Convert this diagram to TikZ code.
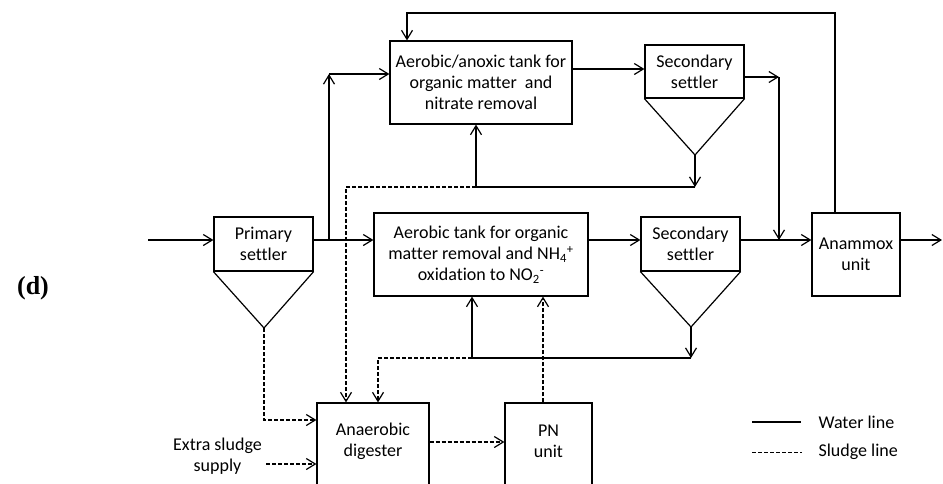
\documentclass[tikz,border=0pt]{standalone}
\usepackage{fontspec}
\setmainfont{Carlito}[Ligatures=NoCommon]
\newfontfamily\figfont{Liberation Serif}
\usetikzlibrary{arrows.meta}

\tikzset{
  unit/.style={draw, align=center, inner sep=0pt},
  sludge/.style={dash pattern=on 4pt off 2pt},
}

\begin{document}
\begin{tikzpicture}[x=1pt,y=-1pt,->,>={Straight Barb[length=9pt,width=11pt]},line width=1.2pt,font=\fontsize{18}{21}\selectfont]
\clip (0,0) rectangle (943,483);

		\node(lbl) at (33,288) {\figfont\fontsize{26}{30}\selectfont\bfseries (d)};

		\node[unit, minimum width=99pt, minimum height=54pt] (prim)   at (263.5,244)  {Primary\\settler};
		\node[unit, minimum width=182pt, minimum height=83pt] (tank_1) at (481,82.5)  {Aerobic/anoxic tank for\\organic matter~ and\\nitrate removal};
		\node[unit, minimum width=99pt, minimum height=53pt] (set_1)  at (694.5,71.5)  {Secondary\\settler};
		\node[unit, minimum width=214pt, minimum height=83pt] (tank_2) at (481,254.5) {Aerobic tank for organic\\matter removal and NH\textsubscript{4}\textsuperscript{+}\\oxidation to NO\textsubscript{2}\textsuperscript{-}};
		\node[unit, minimum width=99pt, minimum height=54pt] (set_2)  at (690.5,244)  {Secondary\\settler};
		\node[unit, minimum width=88pt, minimum height=83pt] (anam)   at (856,254.5)  {Anammox\\unit};
		\node[unit, minimum width=112pt, minimum height=90pt] (dig)   at (373,448)    {};
		\node[align=center] (dig_txt) at (373,441) {Anaerobic\\digester};
		\node[unit, minimum width=87pt, minimum height=90pt] (pn)     at (548.5,448)  {};
		\node[align=center] (pn_txt) at (548.5,441) {PN\\unit};
		\node[align=center] (extra) at (217.5,456) {Extra sludge\\supply};

		% settler cones
		\coordinate (tip_0) at (264,328);
		\coordinate (tip_1) at (695,155);
		\coordinate (tip_2) at (691,327);
		\draw[-] (prim.south west) -- (tip_0) -- (prim.south east);
		\draw[-] (set_1.south west) -- (tip_1) -- (set_1.south east);
		\draw[-] (set_2.south west) -- (tip_2) -- (set_2.south east);

		% water line
		\coordinate (in)  at (148,240);
		\coordinate (out) at (942,240);
		\coordinate (j_1) at (329,240);
		\coordinate (j_2) at (329,74);
		\coordinate (a_1) at (0,69);
		\coordinate (m_1) at (779,77);
		\coordinate (m_2) at (779,240);
		\coordinate (t_1) at (835,13);
		\coordinate (t_2) at (407,13);

		\draw (in) -- (prim.west |- in);
		\draw (prim.east |- j_1) -- (tank_2.west |- j_1);
		\draw (j_1) -- (j_2);
		\draw (j_2) -- (tank_1.west |- j_2);
		\draw (tank_1.east |- a_1) -- (set_1.west |- a_1);
		\draw (set_1.east |- m_1) -- (m_1);
		\draw (m_1) -- (m_2);
		\draw (tank_2.east |- m_2) -- (set_2.west |- m_2);
		\draw (set_2.east |- m_2) -- (anam.west |- m_2);
		\draw (anam.east |- out) -- (out);
		\draw (anam.north -| t_1) -- (t_1) -- (t_2) -- (tank_1.north -| t_2);

		% recycle
		\coordinate (r_1) at (695,187);
		\coordinate (r_2) at (476,187);
		\coordinate (r_3) at (346,187);
		\coordinate (r_4) at (691,358);
		\coordinate (r_5) at (472,358);
		\coordinate (r_6) at (378,358);
		\draw (tip_1) -- (r_1);
		\draw (r_1) -- (r_2) -- (tank_1.south -| r_2);
		\draw[sludge] (r_2) -- (r_3) -- (dig.north -| r_3);
		\draw (tip_2) -- (r_4);
		\draw (r_4) -- (r_5) -- (tank_2.south -| r_5);
		\draw[sludge] (r_5) -- (r_6) -- (dig.north -| r_6);

		% sludge line
		\coordinate (p_1) at (543,0);
		\coordinate (s_1) at (264,420);
		\coordinate (s_2) at (266,464);
		\coordinate (s_3) at (0,442);
		\draw[sludge] (pn.north -| p_1) -- (tank_2.south -| p_1);
		\draw[sludge] (tip_0) -- (s_1) -- (dig.west |- s_1);
		\draw[sludge] (s_2) -- (dig.west |- s_2);
		\draw[sludge] (dig.east |- s_3) -- (pn.west |- s_3);

		% legend
		\coordinate (lw_1) at (752,422);
		\coordinate (lw_2) at (801,422);
		\coordinate (ls_1) at (752,452);
		\coordinate (ls_2) at (802,452);
		\draw[-] (lw_1) -- (lw_2);
		\draw[-,sludge,line width=1pt] (ls_1) -- (ls_2);
		\node[anchor=west, inner sep=0pt] (lw) at (818,422) {Water line};
		\node[anchor=west, inner sep=0pt] (ls) at (818,452) {Sludge line};
	\end{tikzpicture}
\end{document}
